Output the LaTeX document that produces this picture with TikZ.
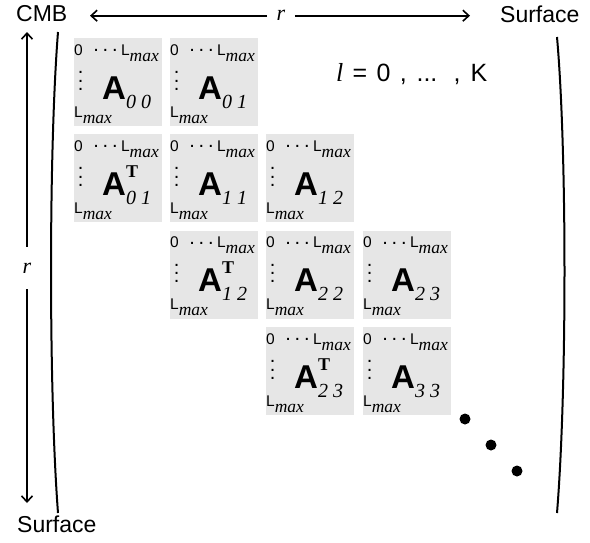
\documentclass[tikz,border=0pt]{standalone}
\usepackage{fontspec}
\setmainfont{Liberation Sans}
\newfontfamily\serif{Liberation Serif}
\usetikzlibrary{positioning,calc,arrows.meta}

\definecolor{blkgray}{RGB}{230,230,230}

% dots and labels inside the blocks
\newcommand{\hdts}{\raisebox{3.5pt}{\fontsize{20}{20}\selectfont .\hspace{3.9pt}.\hspace{3.9pt}.}}
\newcommand{\vdts}{\vbox{\fontsize{20}{20}\selectfont\baselineskip=8.3pt\hbox{.}\hbox{.}\hbox{.}}}
\newcommand{\mx}{\raisebox{-6pt}{\fontsize{17.5}{17.5}\serif\itshape max}}
\newcommand{\Asub}[1]{A\raisebox{-9pt}{\fontsize{20}{20}\serif\mdseries\itshape #1}}
\newcommand{\Atsub}[1]{A\rlap{\raisebox{18pt}{\fontsize{18}{18}\serif\bfseries T}}\raisebox{-9pt}{\fontsize{20}{20}\serif\mdseries\itshape #1}}

% one block: name, x, y, big letter
\newcommand{\blockA}[4]{%
  \node[blk] (#1) at (#2,#3) {};
  \node[txt, font=\fontsize{15.5}{15.5}\selectfont] at ($(#1.north west)+(0,17)$) {\makebox[19.1pt][l]{0}\makebox[27.7pt][l]{\hdts}L\mx};
  \node[inner sep=0] at ($(#1.north west)+(6.7,43)$) {\vdts};
  \node[txt, font=\fontsize{33}{33}\selectfont\bfseries] at ($(#1.north west)+(28,61)$) {#4};
  \node[txt, font=\fontsize{15.5}{15.5}\selectfont] at ($(#1.north west)+(0,79)$) {L\mx};
}

\begin{document}
\begin{tikzpicture}[
    x=1pt, y=-1pt,
    blk/.style={fill=blkgray, minimum width=88pt, minimum height=88pt, inner sep=0, anchor=north west},
    txt/.style={anchor=base west, inner sep=0},
    lbl/.style={font=\fontsize{23}{23}\selectfont, anchor=base west, inner sep=0},
    rlbl/.style={font=\fontsize{22}{22}\serif\itshape, text height=10pt, text depth=0pt, inner sep=0},
    arr/.style={-{Straight Barb[length=6pt,width=11pt]}, line width=1.6pt},
    paren/.style={line width=2pt},
    bigdot/.style={circle, fill, inner sep=0, minimum size=11pt}
  ]
  \useasboundingbox (0,0) rectangle (590,542);

  % end labels
  \node[lbl] (cmb) at (16,21) {CMB};
  \node[lbl] (surftop) at (500,22) {Surface};
  \node[lbl] (surfbot) at (17,532) {Surface};

  % r along the top
  \node[rlbl, inner xsep=9.5pt] (rtop) at (281,15.7) {r};
  \coordinate (toptipL) at (90,15.7);
  \coordinate (toptipR) at (470,15.7);
  \draw[arr] (rtop.west) -- (toptipL);
  \draw[arr] (rtop.east) -- (toptipR);

  % r down the side
  \node[rlbl, inner ysep=16pt] (rleft) at (27,268) {r};
  \coordinate (sidetipT) at (27,32);
  \coordinate (sidetipB) at (27,503);
  \draw[arr] (rleft.north) -- (sidetipT);
  \draw[arr] (rleft.south) -- (sidetipB);

  % brackets
  \draw[paren] (58,32) .. controls (48.7,150) and (48.7,390) .. (58,513);
  \draw[paren] (557,37) .. controls (567,150) and (567,390) .. (557,513);

  % degree range
  \node[txt, font=\fontsize{25}{25}\selectfont] (lrange) at (336,81)
    {\makebox[151pt][s]{{\fontsize{26}{26}\serif\itshape l} = 0 , ... , K}};

  % blocks
  \blockA{b00}{74}{38}{\Asub{0 0}}
  \blockA{b01}{170}{38}{\Asub{0 1}}

  \blockA{b10}{74}{134}{\Atsub{0 1}}
  \blockA{b11}{170}{134}{\Asub{1 1}}
  \blockA{b12}{266}{134}{\Asub{1 2}}

  \blockA{b21}{170}{230.5}{\Atsub{1 2}}
  \blockA{b22}{266}{230.5}{\Asub{2 2}}
  \blockA{b23}{363}{230.5}{\Asub{2 3}}

  \blockA{b32}{266}{327}{\Atsub{2 3}}
  \blockA{b33}{363}{327}{\Asub{3 3}}

  % continuation dots
  \node[bigdot] (dot1) at (465,419) {};
  \node[bigdot] (dot2) at (491,445) {};
  \node[bigdot] (dot3) at (517,471) {};

\end{tikzpicture}
\end{document}
